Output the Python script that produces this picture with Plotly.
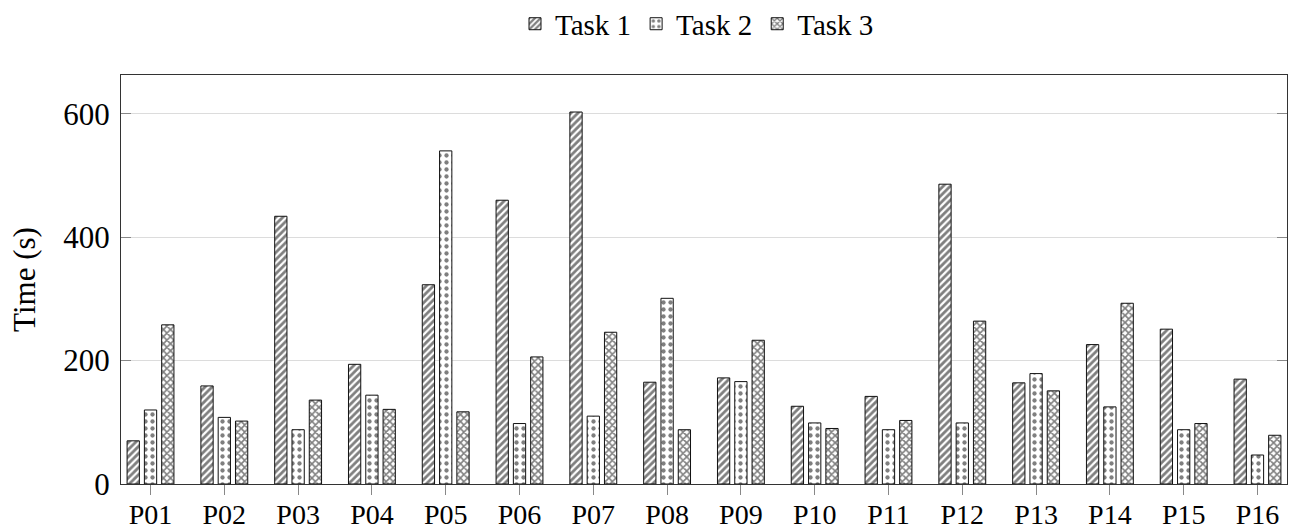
import plotly.graph_objects as go

participants = ["P01", "P02", "P03", "P04", "P05", "P06", "P07", "P08",
                "P09", "P10", "P11", "P12", "P13", "P14", "P15", "P16"]
task1 = [70, 159, 434, 194, 323, 460, 603, 165, 172, 126, 142, 486, 164, 226, 251, 170]
task2 = [120, 108, 88, 144, 540, 98, 110, 301, 166, 99, 88, 99, 179, 125, 88, 47]
task3 = [258, 102, 136, 121, 117, 206, 246, 88, 233, 90, 103, 264, 151, 293, 98, 79]
series_names = ["Task 1", "Task 2", "Task 3"]
y_ticks = [0, 200, 400, 600]

FONT = "Liberation Serif"
patterns = [dict(shape="/", size=5, solidity=0.55),
            dict(shape=".", size=7, solidity=0.3),
            dict(shape="x", size=5, solidity=0.55)]

fig = go.Figure()
for name, vals, pat in zip(series_names, [task1, task2, task3], patterns):
    fig.add_trace(go.Bar(
        x=participants, y=vals, name=name,
        marker=dict(color="white",
                    line=dict(color="#111", width=1),
                    pattern=dict(fgcolor="black", bgcolor="white", **pat)),
    ))

fig.update_layout(
    width=1291, height=531,
    barmode="group", bargap=0.297, bargroupgap=0.29,
    plot_bgcolor="white", paper_bgcolor="white",
    margin=dict(l=121, r=4, t=75, b=47, autoexpand=False),
    font=dict(family=FONT, size=29, color="black"),
    showlegend=True,
    legend=dict(orientation="h", x=0.494, xanchor="center", y=1.125, yanchor="middle",
                font=dict(family=FONT, size=29), itemwidth=30, tracegroupgap=0,
                bgcolor="rgba(0,0,0,0)"),
)
fig.update_xaxes(
    range=[-0.4, 15.4], showline=True, linecolor="#333", linewidth=1, mirror=True,
    ticks="outside", ticklen=10, tickcolor="#888", tickwidth=1, showgrid=False,
    tickfont=dict(family=FONT, size=28), automargin=False, ticklabelstandoff=-5,
)
fig.update_yaxes(
    range=[0, 663], tickvals=y_ticks, showline=True, linecolor="#333", linewidth=1,
    mirror="ticks", ticks="inside", ticklen=10, tickcolor="#888", tickwidth=1,
    showgrid=True, gridcolor="#dcdcdc", gridwidth=1, zeroline=False,
    tickfont=dict(family=FONT, size=31), automargin=False, ticklabelstandoff=4,
    title=dict(text="Time (s)", font=dict(family=FONT, size=31), standoff=18),
)

fig.write_html(
    "out.html",
    config={"displayModeBar": False},
    post_script="document.body.style.margin='0';document.body.style.overflow='hidden';",
)
